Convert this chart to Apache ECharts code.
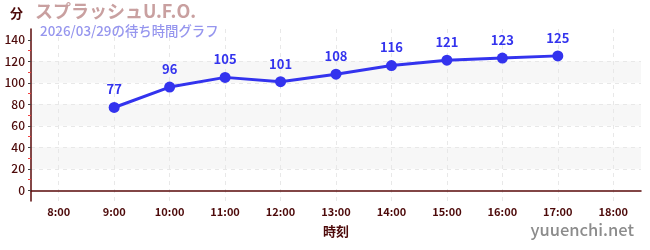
<!DOCTYPE html>
<html><head><meta charset="utf-8">
<script src="https://cdn.jsdelivr.net/npm/echarts@6/dist/echarts.min.js"></script>
<style>html,body{margin:0;padding:0;background:#fff}#c{width:650px;height:250px}</style>
</head><body><div id="c"></div>
<script>
const categories = ['8:00','9:00','10:00','11:00','12:00','13:00','14:00','15:00','16:00','17:00','18:00'];
const waitTimes = [null,77,96,105,101,108,116,121,123,125,null];
const yTicks = [0,20,40,60,80,100,120,140];
const yMinorTicks = [10,30,50,70,90,110,130];
const titleText = 'スプラッシュU.F.O.';
const subtitleText = '2026/03/29の待ち時間グラフ';
const yUnit = '分';
const xName = '時刻';
const watermark = 'yuuenchi.net';

const font = '"Noto Sans CJK JP", "Noto Sans", sans-serif';
const dark = '#4d0a0a';
const chart = echarts.init(document.getElementById('c'), null, {renderer:'canvas'});
chart.setOption({
  animation:false,
  textStyle:{fontFamily:font},
  grid:{left:31,right:9,top:29,bottom:49},
  graphic:[
    {type:'text',left:10,top:7,style:{text:yUnit,fill:dark,font:'bold 13px '+font}},
    {type:'text',left:35,top:2,style:{text:titleText,fill:'#c9a0a0',font:'bold 18px '+font}},
    {type:'text',left:40,top:24,style:{text:subtitleText,fill:'#9696ee',font:'500 13.4px '+font}},
    {type:'text',right:16,top:221,style:{text:watermark,fill:'#8c8c8c',font:'500 16.5px '+font}}
  ],
  xAxis:{
    type:'category',data:categories,boundaryGap:true,
    name:xName,nameLocation:'middle',nameGap:24,
    nameTextStyle:{color:dark,fontWeight:'bold',fontSize:13,fontFamily:font},
    axisLine:{lineStyle:{color:'#5a0a0a',width:1.5}},
    axisTick:{alignWithLabel:true,length:3,lineStyle:{color:'#555'}},
    axisLabel:{color:dark,fontSize:11,fontWeight:'bold',margin:5,fontFamily:font},
    splitLine:{show:true,alignWithLabel:true,lineStyle:{color:'#e8e8e8',type:[4,4]}}
  },
  yAxis:[{
    type:'value',min:-10,max:150,splitNumber:8,
    axisLine:{show:true,lineStyle:{color:'#5a0a0a',width:1.5}},
    axisTick:{show:true,length:3,customValues:yTicks,lineStyle:{color:'#444'}},
    axisLabel:{color:dark,fontSize:12,fontWeight:500,margin:6,customValues:yTicks,fontFamily:font},
    splitLine:{show:true,showMinLine:false,showMaxLine:false,lineStyle:{color:'#e8e8e8',type:[4,4]}},
    splitArea:{show:true,areaStyle:{color:['rgba(255,255,255,0)','#f7f7f7']}}
  },{
    type:'value',min:-10,max:150,position:'left',
    axisLine:{show:false},axisLabel:{show:false},splitLine:{show:false},
    axisTick:{show:true,length:3,customValues:yMinorTicks,lineStyle:{color:'#f04040'}}
  }],
  series:[{
    type:'line',data:waitTimes,yAxisIndex:0,
    symbol:'circle',symbolSize:11,
    lineStyle:{color:'#3333ee',width:3},
    itemStyle:{color:'#3333ee'},
    label:{show:true,position:'top',distance:6,color:'#3333ee',fontWeight:'bold',fontSize:13,fontFamily:font}
  }]
});
</script></body></html>
